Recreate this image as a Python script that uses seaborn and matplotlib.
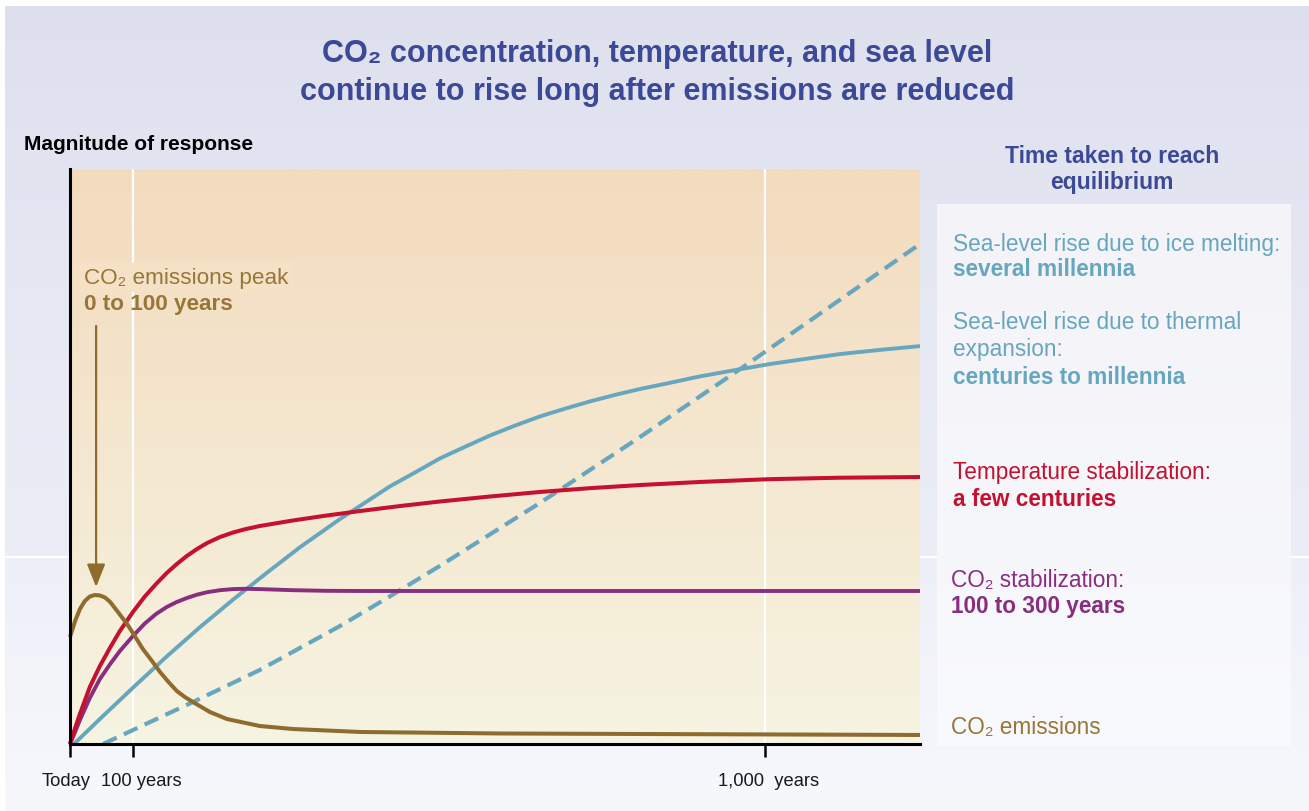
import numpy as np
import matplotlib
matplotlib.use('Agg')
import matplotlib.pyplot as plt
import matplotlib.transforms as mtransforms
from matplotlib.colors import to_rgb
import seaborn as sns

# x = years after today, y = magnitude of response (0 = axis, 100 = top of frame)
emis_years = [0, 9, 17, 25, 33, 41, 49, 57, 65, 77, 91, 100, 115, 126, 141, 153, 166, 178, 190,
              215, 240, 288, 336, 433, 631, 827, 1213]
emis_vals = [18.61, 21.39, 23.48, 24.87, 25.65, 25.91, 25.83, 25.48, 24.70, 22.96, 20.87, 19.30, 16.52,
             14.87, 12.52, 10.87, 9.22, 8.17, 7.30, 5.57, 4.35, 3.13, 2.61, 2.09, 1.83, 1.74, 1.57]

temp_years = [0, 9, 17, 33, 49, 65, 80, 100, 118, 135, 151, 166, 181, 196, 211, 230, 249, 268, 288,
              336, 385, 433, 490, 546, 617, 687, 757, 827, 910, 1004, 1103, 1213]
temp_vals = [0, 2.78, 5.22, 9.91, 13.57, 16.78, 19.65, 22.96, 25.65, 27.83, 29.74, 31.30, 32.70, 33.91,
             34.96, 36.00, 36.78, 37.39, 37.91, 38.87, 39.74, 40.52, 41.39, 42.17, 43.04, 43.83, 44.49,
             45.04, 45.57, 46.05, 46.31, 46.43]

co2_years = [0, 9, 17, 33, 49, 65, 80, 100, 118, 135, 151, 166, 181, 196, 211, 230, 249, 268, 288,
             336, 385, 433, 617, 1213]
co2_vals = [0, 2.09, 4.17, 8.00, 11.30, 13.91, 16.17, 18.78, 20.96, 22.61, 23.83, 24.70, 25.39, 25.97,
            26.40, 26.75, 26.94, 26.99, 26.94, 26.75, 26.64, 26.61, 26.61, 26.61]

thermal_years = [7, 49, 100, 151, 200, 249, 299, 346, 404, 475, 511, 546, 582, 617, 652, 687, 722,
                 757, 792, 827, 869, 910, 959, 1004, 1055, 1103, 1158, 1213]
thermal_vals = [0, 4.35, 9.79, 15.23, 20.28, 25.10, 29.83, 34.19, 39.13, 44.78, 47.22, 49.65, 51.70,
                53.65, 55.36, 56.96, 58.31, 59.57, 60.71, 61.74, 62.83, 63.93, 65.03, 66.03, 66.96,
                67.81, 68.54, 69.20]

ice_years = [54, 100, 190, 288, 404, 475, 546, 687, 827, 970, 1089, 1213]
ice_vals = [0, 2.43, 7.30, 12.87, 20.52, 25.65, 30.96, 41.91, 53.39, 65.57, 76.00, 86.96]

tick_years = [0, 100, 1000]
tick_labels = ['Today', '100 years', '1,000  years']
peak_year = 43
arrow_from, arrow_to = 72.7, 27.3

TITLE_BLUE = '#3b4996'
BLUE = '#67a6bf'
RED = '#c5102f'
PURPLE = '#892d80'
BROWN = '#8f6c2e'
BROWN_TXT = '#977638'

sns.set_style('white')
plt.rcParams['font.family'] = ['Liberation Sans', 'DejaVu Sans']

W, H = 1309, 812
fig = plt.figure(figsize=(W / 100, H / 100), dpi=100, facecolor='white')


def grad(c1, c2, n=256):
    a, b = np.array(to_rgb(c1)), np.array(to_rgb(c2))
    t = np.linspace(0, 1, n)[:, None, None]
    return a * (1 - t) + b * t


# background, drawn in pixel coordinates
bg = fig.add_axes([0, 0, 1, 1], zorder=-10)
bg.axis('off')
bg.imshow(grad('#dee0ee', '#eceef7'), extent=(5, W, 557, 7), aspect='auto')
bg.imshow(grad('#eef0f8', '#f6f8fc'), extent=(5, W, H, 559), aspect='auto')
bg.imshow(grad('#f3dbbe', '#f6f4e2'), extent=(70, 920, 745, 170), aspect='auto')
bg.imshow(grad('#f3f3f8', '#f9fafd'), extent=(937, 1291, 747, 205), aspect='auto')
bg.set_xlim(0, W)
bg.set_ylim(H, 0)

# main axes
ax = fig.add_axes([70 / W, (H - 745) / H, 850 / W, 575 / H])
ax.set_facecolor('none')
p = 1.043
ax.set_xscale('function', functions=(lambda x: np.sign(x) * np.abs(x) ** p,
                                     lambda x: np.sign(x) * np.abs(x) ** (1 / p)))
ax.set_xlim(0, 1213)
ax.set_ylim(0, 100)

for xv in tick_years[1:]:
    ax.axvline(xv, color='white', lw=1.6, zorder=1)

kw = dict(ax=ax, sort=False, estimator=None, clip_on=False, solid_capstyle='butt',
          solid_joinstyle='round', zorder=3)
sns.lineplot(x=ice_years, y=ice_vals, color=BLUE, lw=3.0, linestyle=(0, (3.6, 1.9)),
             dash_capstyle='butt', ax=ax, sort=False, estimator=None, clip_on=False, zorder=3)
sns.lineplot(x=thermal_years, y=thermal_vals, color=BLUE, lw=2.8, **kw)
sns.lineplot(x=co2_years, y=co2_vals, color=PURPLE, lw=2.8, **kw)
sns.lineplot(x=temp_years, y=temp_vals, color=RED, lw=2.9, **kw)
sns.lineplot(x=emis_years, y=emis_vals, color=BROWN, lw=2.9, **kw)

ax.annotate('', xy=(peak_year, arrow_to), xytext=(peak_year, arrow_from),
            arrowprops=dict(arrowstyle='-|>,head_length=0.7,head_width=0.28', mutation_scale=20,
                            lw=1.6, color=BROWN, shrinkA=0, shrinkB=0), zorder=4)

for s in ['top', 'right']:
    ax.spines[s].set_visible(False)
for s in ['left', 'bottom']:
    ax.spines[s].set_color('black')
    ax.spines[s].set_linewidth(2.2)
    ax.spines[s].set_zorder(5)
ax.set_yticks([])
ax.set_xticks(tick_years)
ax.set_xticklabels(tick_labels, fontsize=13.2, color='#1a1a1a')
ax.tick_params(axis='x', direction='out', length=9.5, width=1.8, color='black', pad=11, bottom=True)
for lab, dx in zip(ax.get_xticklabels(), [-4, 8, 4]):
    lab.set_transform(lab.get_transform() + mtransforms.ScaledTranslation(dx / 100, 0, fig.dpi_scale_trans))
ax.set_xlabel('')
ax.set_ylabel('')


def ftxt(x, y, s, **k):
    fig.text(x / W, 1 - y / H, s, va='baseline', **k)


ftxt(657, 62, 'CO\u2082 concentration, temperature, and sea level', ha='center',
     fontsize=22, fontweight='bold', color=TITLE_BLUE)
ftxt(657, 100, 'continue to rise long after emissions are reduced', ha='center',
     fontsize=22, fontweight='bold', color=TITLE_BLUE)
ftxt(24, 150, 'Magnitude of response', fontsize=15, fontweight='bold', color='black')
ftxt(1112, 163, 'Time taken to reach', ha='center', fontsize=16.5, fontweight='bold', color=TITLE_BLUE)
ftxt(1112, 189, 'equilibrium', ha='center', fontsize=16.5, fontweight='bold', color=TITLE_BLUE)

fig.text(84 / W, 1 - 284 / H, 'CO\u2082 emissions peak', va='baseline', fontsize=16.2, color=BROWN_TXT,
         bbox=dict(facecolor='#f4e1c6', edgecolor='none', pad=3))
ftxt(84, 310, '0 to 100 years', fontsize=16.2, fontweight='bold', color=BROWN_TXT)

fs = 16.3
ftxt(953, 251, 'Sea-level rise due to ice melting:', fontsize=fs, color=BLUE)
ftxt(953, 276, 'several millennia', fontsize=fs, fontweight='bold', color=BLUE)
ftxt(953, 329, 'Sea-level rise due to thermal', fontsize=fs, color=BLUE)
ftxt(953, 356, 'expansion:', fontsize=fs, color=BLUE)
ftxt(953, 384, 'centuries to millennia', fontsize=fs, fontweight='bold', color=BLUE)
ftxt(953, 479, 'Temperature stabilization:', fontsize=fs, color=RED)
ftxt(953, 506, 'a few centuries', fontsize=fs, fontweight='bold', color=RED)
ftxt(951, 587, 'CO\u2082 stabilization:', fontsize=fs, color=PURPLE)
ftxt(951, 613, '100 to 300 years', fontsize=fs, fontweight='bold', color=PURPLE)
ftxt(951, 734, 'CO\u2082 emissions', fontsize=fs, color=BROWN_TXT)

fig.savefig('out.png', dpi=100, facecolor=fig.get_facecolor())
